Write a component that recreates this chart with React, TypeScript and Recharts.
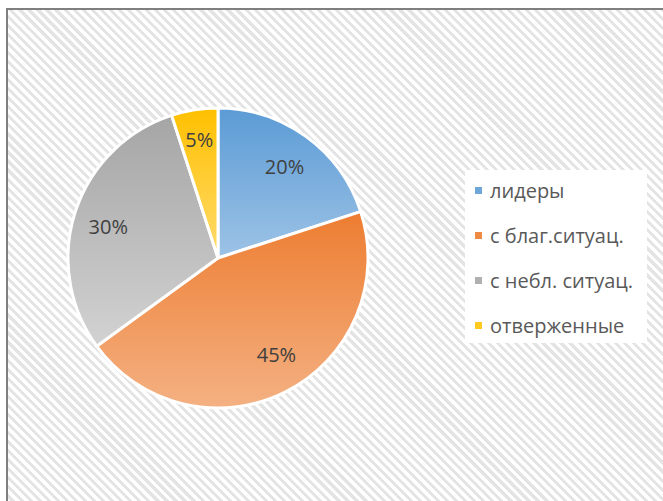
import React from "react";
import { PieChart, Pie, Cell, Legend } from "recharts";

const categories = ["лидеры", "с благ.ситуац.", "с небл. ситуац.", "отверженные"];
const values = [20, 45, 30, 5];
const labels = ["20%", "45%", "30%", "5%"];
const topColors = ["#5b9bd5", "#ed7d31", "#a5a5a5", "#ffc000"];
const bottomColors = ["#9dc3e6", "#f4b183", "#d2d2d2", "#ffdb6e"];
const markerColors = ["#6fa6da", "#ef8a45", "#b0b0b0", "#ffc91f"];

const data = categories.map((name, i) => ({ name, value: values[i], label: labels[i] }));

const RADIAN = Math.PI / 180;
const labelNudge = [
  [0, 0],
  [7, -4],
  [-2, 3],
  [0, 0],
];

const renderLabel = (props: any) => {
  const { cx, cy, midAngle, outerRadius, index } = props;
  const r = outerRadius * (index === 3 ? 0.8 : 0.755);
  const x = cx + r * Math.cos(-midAngle * RADIAN) + labelNudge[index][0];
  const y = cy + r * Math.sin(-midAngle * RADIAN) + labelNudge[index][1];
  return (
    <text
      x={x}
      y={y}
      fill="#404040"
      fontSize={20}
      fontFamily="'Open Sans', sans-serif"
      textAnchor="middle"
      dominantBaseline="central"
    >
      {data[index].label}
    </text>
  );
};

const LegendContent = () => (
  <div
    style={{
      background: "#ffffff",
      width: 182,
      height: 173,
      fontFamily: "'Open Sans', sans-serif",
    }}
  >
    {categories.map((c, i) => (
      <div
        key={c}
        style={{
          position: "absolute",
          left: 10,
          top: 20 + i * 45.3 - 15,
          display: "flex",
          alignItems: "center",
          height: 30,
          fontSize: 20,
          color: "#595959",
          whiteSpace: "nowrap",
        }}
      >
        <span
          style={{
            display: "inline-block",
            width: 7,
            height: 7,
            background: markerColors[i],
            marginRight: 8,
          }}
        />
        <span>{c}</span>
      </div>
    ))}
  </div>
);

export default function App() {
  return (
    <div
      style={{
        position: "absolute",
        left: 0,
        top: 0,
        width: 663,
        height: 501,
        overflow: "hidden",
        background: "#ffffff",
      }}
    >
      <div
        style={{
          position: "absolute",
          left: 6,
          top: 8,
          width: 680,
          height: 520,
          borderLeft: "2px solid #7f7f7f",
          borderTop: "2px solid #7f7f7f",
          backgroundColor: "#ffffff",
          backgroundImage:
            "repeating-linear-gradient(45deg, #ffffff 0px, #ffffff 3.4px, #e4e4e4 3.4px, #e4e4e4 6.4px)",
        }}
      />
      <div style={{ position: "absolute", left: 0, top: 0 }}>
        <PieChart width={663} height={501} margin={{ top: 0, right: 0, bottom: 0, left: 0 }}>
          <defs>
            {topColors.map((c, i) => (
              <linearGradient key={i} id={`grad${i}`} x1="0" y1="0" x2="0" y2="1">
                <stop offset="0%" stopColor={c} />
                <stop offset="100%" stopColor={bottomColors[i]} />
              </linearGradient>
            ))}
          </defs>
          <Pie
            data={data}
            dataKey="value"
            nameKey="name"
            cx={218}
            cy={258}
            outerRadius={150}
            startAngle={90}
            endAngle={-270}
            stroke="#ffffff"
            strokeWidth={3}
            label={renderLabel}
            labelLine={false}
            isAnimationActive={false}
          >
            {data.map((d, i) => (
              <Cell key={d.name} fill={`url(#grad${i})`} />
            ))}
          </Pie>
          <Legend
            content={<LegendContent />}
            wrapperStyle={{ position: "absolute", left: 465, top: 170, width: 182, height: 173 }}
          />
        </PieChart>
      </div>
    </div>
  );
}
